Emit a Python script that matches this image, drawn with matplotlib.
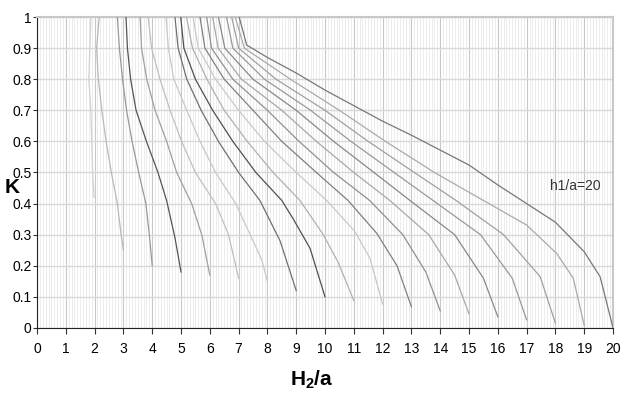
import numpy as np
import matplotlib
matplotlib.use("Agg")
import matplotlib.pyplot as plt

plt.rcParams['font.family'] = ['Liberation Sans', 'DejaVu Sans']
plt.rcParams['mathtext.default'] = 'regular'

# h1/a values, one curve each
h1_values = list(range(2, 21))

# (H2/a, K) points, curve by curve
curve_x = {
    2: [1.87, 1.80, 1.87, 1.90, 1.93, 1.98],
    3: [2.16, 2.07, 2.13, 2.25, 2.40, 2.58, 2.79, 2.92, 3.00],
    4: [2.79, 2.86, 2.97, 3.11, 3.30, 3.53, 3.78, 3.90, 4.00],
    5: [3.09, 3.14, 3.25, 3.44, 3.80, 4.20, 4.50, 4.79, 5.00],
    6: [3.58, 3.63, 3.81, 4.10, 4.50, 4.85, 5.37, 5.72, 6.00],
    7: [3.86, 3.98, 4.27, 4.62, 5.02, 5.50, 6.20, 6.65, 7.00],
    8: [4.48, 4.56, 4.75, 5.20, 5.66, 6.20, 6.90, 7.40, 7.80, 8.00],
    9: [4.79, 4.90, 5.20, 5.70, 6.30, 7.00, 7.74, 8.44, 9.00],
    10: [4.99, 5.10, 5.50, 6.10, 6.80, 7.60, 8.50, 8.90, 9.48, 10.00],
    11: [5.19, 5.40, 5.90, 6.50, 7.30, 8.20, 9.13, 9.94, 10.46, 11.00],
    12: [5.42, 5.60, 6.20, 7.00, 7.90, 9.00, 10.06, 11.04, 11.56, 12.00],
    13: [5.66, 5.83, 6.50, 7.50, 8.50, 9.70, 10.80, 11.80, 12.50, 13.00],
    14: [5.89, 6.06, 6.80, 8.00, 9.10, 10.30, 11.55, 12.70, 13.50, 14.00],
    15: [6.10, 6.29, 7.10, 8.50, 9.70, 11.00, 12.25, 13.60, 14.50, 15.00],
    16: [6.30, 6.52, 7.50, 9.00, 10.30, 11.70, 12.95, 14.50, 15.50, 16.00],
    17: [6.58, 6.80, 7.90, 9.50, 10.90, 12.40, 13.75, 15.40, 16.50, 17.00],
    18: [6.76, 7.00, 8.30, 10.00, 11.50, 13.10, 14.55, 16.20, 17.47, 18.00],
    19: [6.88, 7.20, 8.80, 10.50, 12.10, 13.80, 15.50, 17.00, 18.04, 18.62, 19.00],
    20: [7.02, 7.28, 8.0, 9.0, 10.0, 11.0, 12.0, 13.0, 14.0, 15.0, 16.0, 17.0, 18.0, 19.0, 19.55, 20.0],
}
curve_k = {
    2: [1.0, 0.8, 0.7, 0.6, 0.5, 0.42],
    3: [1.0, 0.9, 0.8, 0.7, 0.6, 0.5, 0.4, 0.3, 0.25],
    4: [1.0, 0.9, 0.8, 0.7, 0.6, 0.5, 0.4, 0.3, 0.2],
    5: [1.0, 0.9, 0.8, 0.7, 0.6, 0.5, 0.41, 0.29, 0.18],
    6: [1.0, 0.9, 0.8, 0.7, 0.6, 0.5, 0.4, 0.3, 0.17],
    7: [1.0, 0.9, 0.8, 0.7, 0.6, 0.5, 0.4, 0.3, 0.16],
    8: [1.0, 0.9, 0.8, 0.7, 0.6, 0.5, 0.4, 0.3, 0.22, 0.15],
    9: [1.0, 0.9, 0.8, 0.7, 0.6, 0.5, 0.41, 0.28, 0.12],
    10: [1.0, 0.9, 0.8, 0.7, 0.6, 0.5, 0.41, 0.35, 0.256, 0.10],
    11: [1.0, 0.9, 0.8, 0.7, 0.6, 0.5, 0.41, 0.30, 0.21, 0.088],
    12: [1.0, 0.9, 0.8, 0.7, 0.6, 0.5, 0.41, 0.31, 0.224, 0.077],
    13: [1.0, 0.9, 0.8, 0.7, 0.6, 0.5, 0.41, 0.304, 0.20, 0.068],
    14: [1.0, 0.9, 0.8, 0.7, 0.6, 0.5, 0.41, 0.30, 0.18, 0.055],
    15: [1.0, 0.9, 0.8, 0.7, 0.6, 0.5, 0.41, 0.30, 0.17, 0.045],
    16: [1.0, 0.9, 0.8, 0.7, 0.6, 0.5, 0.41, 0.30, 0.16, 0.036],
    17: [1.0, 0.9, 0.8, 0.7, 0.6, 0.5, 0.41, 0.30, 0.16, 0.026],
    18: [1.0, 0.9, 0.8, 0.7, 0.6, 0.5, 0.41, 0.30, 0.165, 0.015],
    19: [1.0, 0.9, 0.8, 0.7, 0.6, 0.5, 0.41, 0.331, 0.24, 0.16, 0.008],
    20: [1.0, 0.91, 0.87, 0.82, 0.765, 0.715, 0.665, 0.62, 0.572, 0.524, 0.46, 0.40, 0.34, 0.245, 0.165, 0.0],
}
# line greys, picked per curve from the picture
curve_grey = {
    2: '#d0d0d0', 3: '#b8b8b8', 4: '#999999', 5: '#555555', 6: '#a0a0a0',
    7: '#c0c0c0', 8: '#c8c8c8', 9: '#707070', 10: '#505050', 11: '#b0b0b0',
    12: '#c8c8c8', 13: '#808080', 14: '#909090', 15: '#a8a8a8', 16: '#888888',
    17: '#999999', 18: '#a0a0a0', 19: '#aaaaaa', 20: '#777777',
}

x_ticks = list(range(0, 21))
y_ticks = [0, 0.1, 0.2, 0.3, 0.4, 0.5, 0.6, 0.7, 0.8, 0.9, 1]
y_tick_labels = ['0', '0.1', '0.2', '0.3', '0.4', '0.5', '0.6', '0.7', '0.8', '0.9', '1']

fig = plt.figure(figsize=(6.23, 3.97), dpi=100)
ax = fig.add_axes([0.0594, 0.174, 0.9246, 0.783])

for h in h1_values:
    ax.plot(curve_x[h], curve_k[h], color=curve_grey[h], lw=0.9, zorder=3)

ax.set_xlim(0, 20)
ax.set_ylim(0, 1)

# grid: fine verticals every 0.1, stronger at integers, horizontals every 0.1
ax.set_xticks(x_ticks)
ax.set_xticks(np.arange(0, 20.01, 0.1), minor=True)
ax.set_yticks(y_ticks)
ax.set_yticklabels(y_tick_labels)
ax.grid(which='minor', axis='x', color='#ececec', lw=0.7)
ax.grid(which='major', axis='x', color='#c8c8c8', lw=0.8)
ax.grid(which='major', axis='y', color='#d8d8d8', lw=1.0)
ax.set_axisbelow(True)

ax.tick_params(axis='x', which='minor', length=0)
ax.tick_params(axis='x', which='major', length=4, direction='out', labelsize=10, pad=6, color='#333333')
ax.tick_params(axis='y', which='major', length=3, direction='out', labelsize=10, pad=1, color='#333333')

for side in ['top', 'right']:
    ax.spines[side].set_color('#c8c8c8')
    ax.spines[side].set_linewidth(1.5)
for side in ['left', 'bottom']:
    ax.spines[side].set_color('#222222')
    ax.spines[side].set_linewidth(0.8)

fig.text(0.008, 0.528, 'K', fontsize=15, fontweight='bold', ha='left', va='center')
fig.text(0.5, 0.042, 'H$_2$/a', fontsize=15, fontweight='bold', ha='center', va='center')
ax.text(18.7, 0.457, 'h1/a=20', fontsize=10, color='#333333', ha='center', va='center')

fig.savefig('out.png', dpi=100)
